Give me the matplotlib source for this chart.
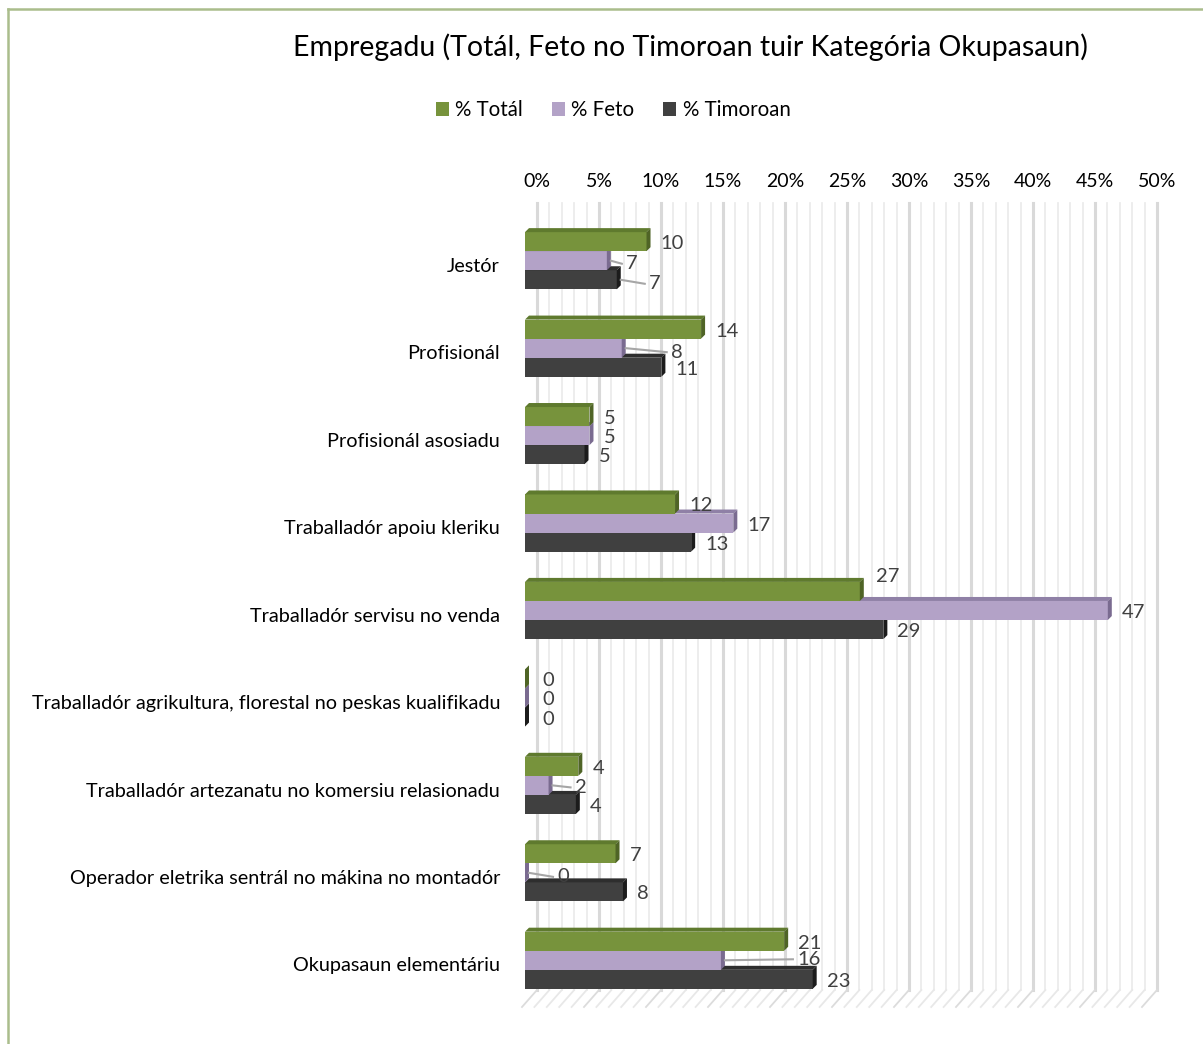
import matplotlib.pyplot as plt
import matplotlib.transforms as mtrans
from matplotlib.patches import Polygon, Patch
from matplotlib.lines import Line2D

plt.rcParams['font.family'] = ['Lato', 'DejaVu Sans']

categories = ['Jestór', 'Profisionál', 'Profisionál asosiadu', 'Traballadór apoiu kleriku',
              'Traballadór servisu no venda',
              'Traballadór agrikultura, florestal no peskas kualifikadu',
              'Traballadór artezanatu no komersiu relasionadu',
              'Operador eletrika sentrál no mákina no montadór', 'Okupasaun elementáriu']
series = ['% Totál', '% Feto', '% Timoroan']
total = [9.8, 14.2, 5.2, 12.1, 27.0, 0, 4.3, 7.3, 20.9]
feto = [6.6, 7.8, 5.2, 16.8, 47.0, 0, 1.9, 0, 15.8]
timoroan = [7.4, 11.0, 4.8, 13.4, 28.9, 0, 4.1, 7.9, 23.2]
ticks = [0, 5, 10, 15, 20, 25, 30, 35, 40, 45, 50]

front = ['#77933c', '#b3a2c7', '#404040']
top = ['#5f7a2e', '#8f80a6', '#2e2e2e']
side = ['#4f6426', '#7a6b90', '#1c1c1c']

W, H = 1203, 1044
fig = plt.figure(figsize=(W / 100, H / 100), dpi=100)
L, R, T, B = 525, 1145, 217, 1004
ax = fig.add_axes([L / W, 1 - B / H, (R - L) / W, (B - T) / H])
ax.set_xlim(0, 50)
ax.set_ylim(8.5, -0.5)
for s in ax.spines.values():
    s.set_visible(False)
ax.tick_params(length=0)
ax.set_xticks([])

px = (R - L) / 50.0   # pixels per % unit
py = (B - T) / 9.0    # pixels per category unit
bx, by = 12 / px, 14 / py  # back wall offset

# back wall gridlines and floor
for k in range(51):
    x = k + bx
    major = k % 5 == 0
    ax.plot([x, x], [-0.5 - by, 8.5 - by], color='#d9d9d9' if major else '#ececec',
            lw=2.2 if major else 1.3, clip_on=False, zorder=0)
    ax.plot([x, k - 3 / px], [8.5 - by, 8.5 + 3 / py], color='#dcdcdc' if major else '#e8e8e8',
            lw=1.3, clip_on=False, zorder=0)

for t in ticks:
    ax.text(t + bx, -0.5 - by - 22 / py, f'{t}%', ha='center', va='center', fontsize=14,
            color='#000000', clip_on=False)

h = 0.218
d = 4  # bar depth in px
dx, dy = d / px, d / py
values = [total, feto, timoroan]

# special label placement (series, category) -> (dx px from bar end, dy px, leader)
special = {
    (1, 0): (19, 1, True), (2, 0): (32, 2, True), (1, 1): (49, 2, True),
    (1, 6): (26, 0, True), (1, 7): (32, 2, True), (1, 8): (76, -3, True),
    (0, 4): (16, -17, False), (0, 5): (17, 0, False), (1, 5): (17, 0, False),
    (2, 5): (17, 0, False),
}

for si in [2, 1, 0]:
    off = (si - 1) * h
    ys = [i + off for i in range(len(categories))]
    ax.barh(ys, values[si], height=h, left=0, color=front[si], edgecolor='none', zorder=3)
    for i, v in enumerate(values[si]):
        y0, y1 = ys[i] - h / 2, ys[i] + h / 2
        ax.add_patch(Polygon([(0, y0), (v, y0), (v + dx, y0 - dy), (dx, y0 - dy)],
                             closed=True, fc=top[si], ec='none', zorder=3))
        ax.add_patch(Polygon([(v, y0), (v + dx, y0 - dy), (v + dx, y1 - dy), (v, y1)],
                             closed=True, fc=side[si], ec='none', zorder=3))

for si in range(3):
    off = (si - 1) * h
    for i, v in enumerate(values[si]):
        yc = i + off
        ddx, ddy, leader = special.get((si, i), (14, 0, False))
        lx = v + ddx / px
        ly = yc + (ddy + 2) / py
        if leader:
            ax.plot([v + dx, lx - 4 / px], [yc, ly], color='#a6a6a6', lw=1.5, zorder=4)
        ax.text(lx, ly, f'{v:.0f}', ha='left', va='center', fontsize=14.5, color='#404040',
                zorder=5)

ax.set_yticks(range(len(categories)))
ax.set_yticklabels(categories, fontsize=14.3, color='#000000')
ax.tick_params(axis='y', pad=18)
for lab in ax.get_yticklabels():
    lab.set_transform(lab.get_transform() + mtrans.ScaledTranslation(0, -3 / 72, fig.dpi_scale_trans))

fig.text(690 / W, 1 - 47 / H, 'Empregadu (Totál, Feto no Timoroan tuir Kategória Okupasaun)',
         ha='center', va='center', fontsize=20.5)
handles = [Patch(fc=c, ec='none') for c in front]
fig.legend(handles, series, loc='center', bbox_to_anchor=(613 / W, 1 - 110 / H), ncol=3,
           frameon=False, fontsize=14.8, handlelength=0.65, handleheight=0.65,
           handletextpad=0.3, columnspacing=1.4)

fig.add_artist(Line2D([8 / W, 8 / W], [0, 1 - 9 / H], color='#aabd8c', lw=1.8))
fig.add_artist(Line2D([8 / W, 1], [1 - 9 / H, 1 - 9 / H], color='#aabd8c', lw=1.8))

fig.savefig('out.png', dpi=100)
